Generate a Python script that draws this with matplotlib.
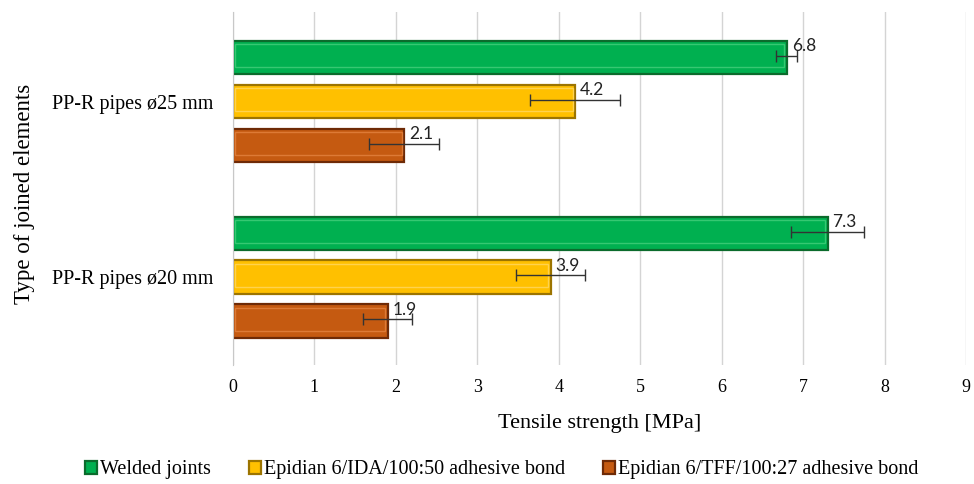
import numpy as np
import matplotlib.pyplot as plt

groups = ["PP-R pipes ø20 mm", "PP-R pipes ø25 mm"]
series = ["Welded joints", "Epidian 6/IDA/100:50 adhesive bond", "Epidian 6/TFF/100:27 adhesive bond"]
welded = [7.3, 6.8]
ida = [3.9, 4.2]
tff = [1.9, 2.1]
welded_err = [0.45, 0.13]
ida_err = [0.42, 0.55]
tff_err = [0.30, 0.43]

faces = ["#00b050", "#ffc000", "#c55a11"]
edges = ["#0b6b2c", "#9c7400", "#6e2a06"]
lights = ["#36c872", "#ffd24d", "#dd7a36"]

plt.rcParams['font.family'] = ['Liberation Serif']

fig = plt.figure(figsize=(9.74, 4.84), dpi=100)
ax = fig.add_axes([0.2392, 0.2459, 0.7526, 0.7293])

y = np.arange(len(groups))
offsets = [0.25, 0.0, -0.25]
h = 0.19
for vals, errs, off, fc, ec, lc, name in zip([welded, ida, tff], [welded_err, ida_err, tff_err],
                                            offsets, faces, edges, lights, series):
    vals = np.array(vals)
    ax.barh(y + off, vals, height=h, color=fc, edgecolor=ec, linewidth=1.6, label=name, zorder=2)
    # bevel highlight inside each bar
    ax.barh(y + off + 0.01, vals - 0.06, left=0.03, height=h - 0.06, color="none",
            edgecolor=lc, linewidth=1.0, zorder=3)
    ax.errorbar(vals, y + off + 0.01, xerr=errs, fmt="none", ecolor="#333333",
                elinewidth=1.0, capsize=4, capthick=1.0, zorder=4)
    for v, yy in zip(vals, y + off):
        ax.text(v + 0.06, yy + 0.02, f"{v:.1f}", ha="left", va="bottom",
                fontsize=12.5, family="Lato", color="#222222", zorder=5)

ax.set_xlim(0, 9)
ax.set_ylim(-0.5, 1.51)
ax.set_xticks(range(10))
ax.set_yticks(y)
ax.set_yticklabels(groups, fontsize=14.5)
ax.tick_params(axis="x", labelsize=13, length=0, pad=10)
ax.tick_params(axis="y", length=0, pad=14)
ax.grid(axis="x", color="#d4d4d4", linewidth=1.0, zorder=0)
ax.set_axisbelow(True)
for s in ["top", "right", "bottom"]:
    ax.spines[s].set_visible(False)
ax.spines["left"].set_color("#c8c8c8")

ax.set_xlabel("Tensile strength [MPa]", fontsize=16, labelpad=13)
fig.text(0.025, 0.600, "Type of joined elements", rotation=90, ha="center", va="center", fontsize=16.5)

fig.legend(*ax.get_legend_handles_labels(), loc="center", bbox_to_anchor=(0.515, 0.029), ncol=3,
           frameon=False, fontsize=14.5, handlelength=0.6, handleheight=0.6, handletextpad=0.15,
           columnspacing=1.9)

fig.savefig("out.png", dpi=100)
